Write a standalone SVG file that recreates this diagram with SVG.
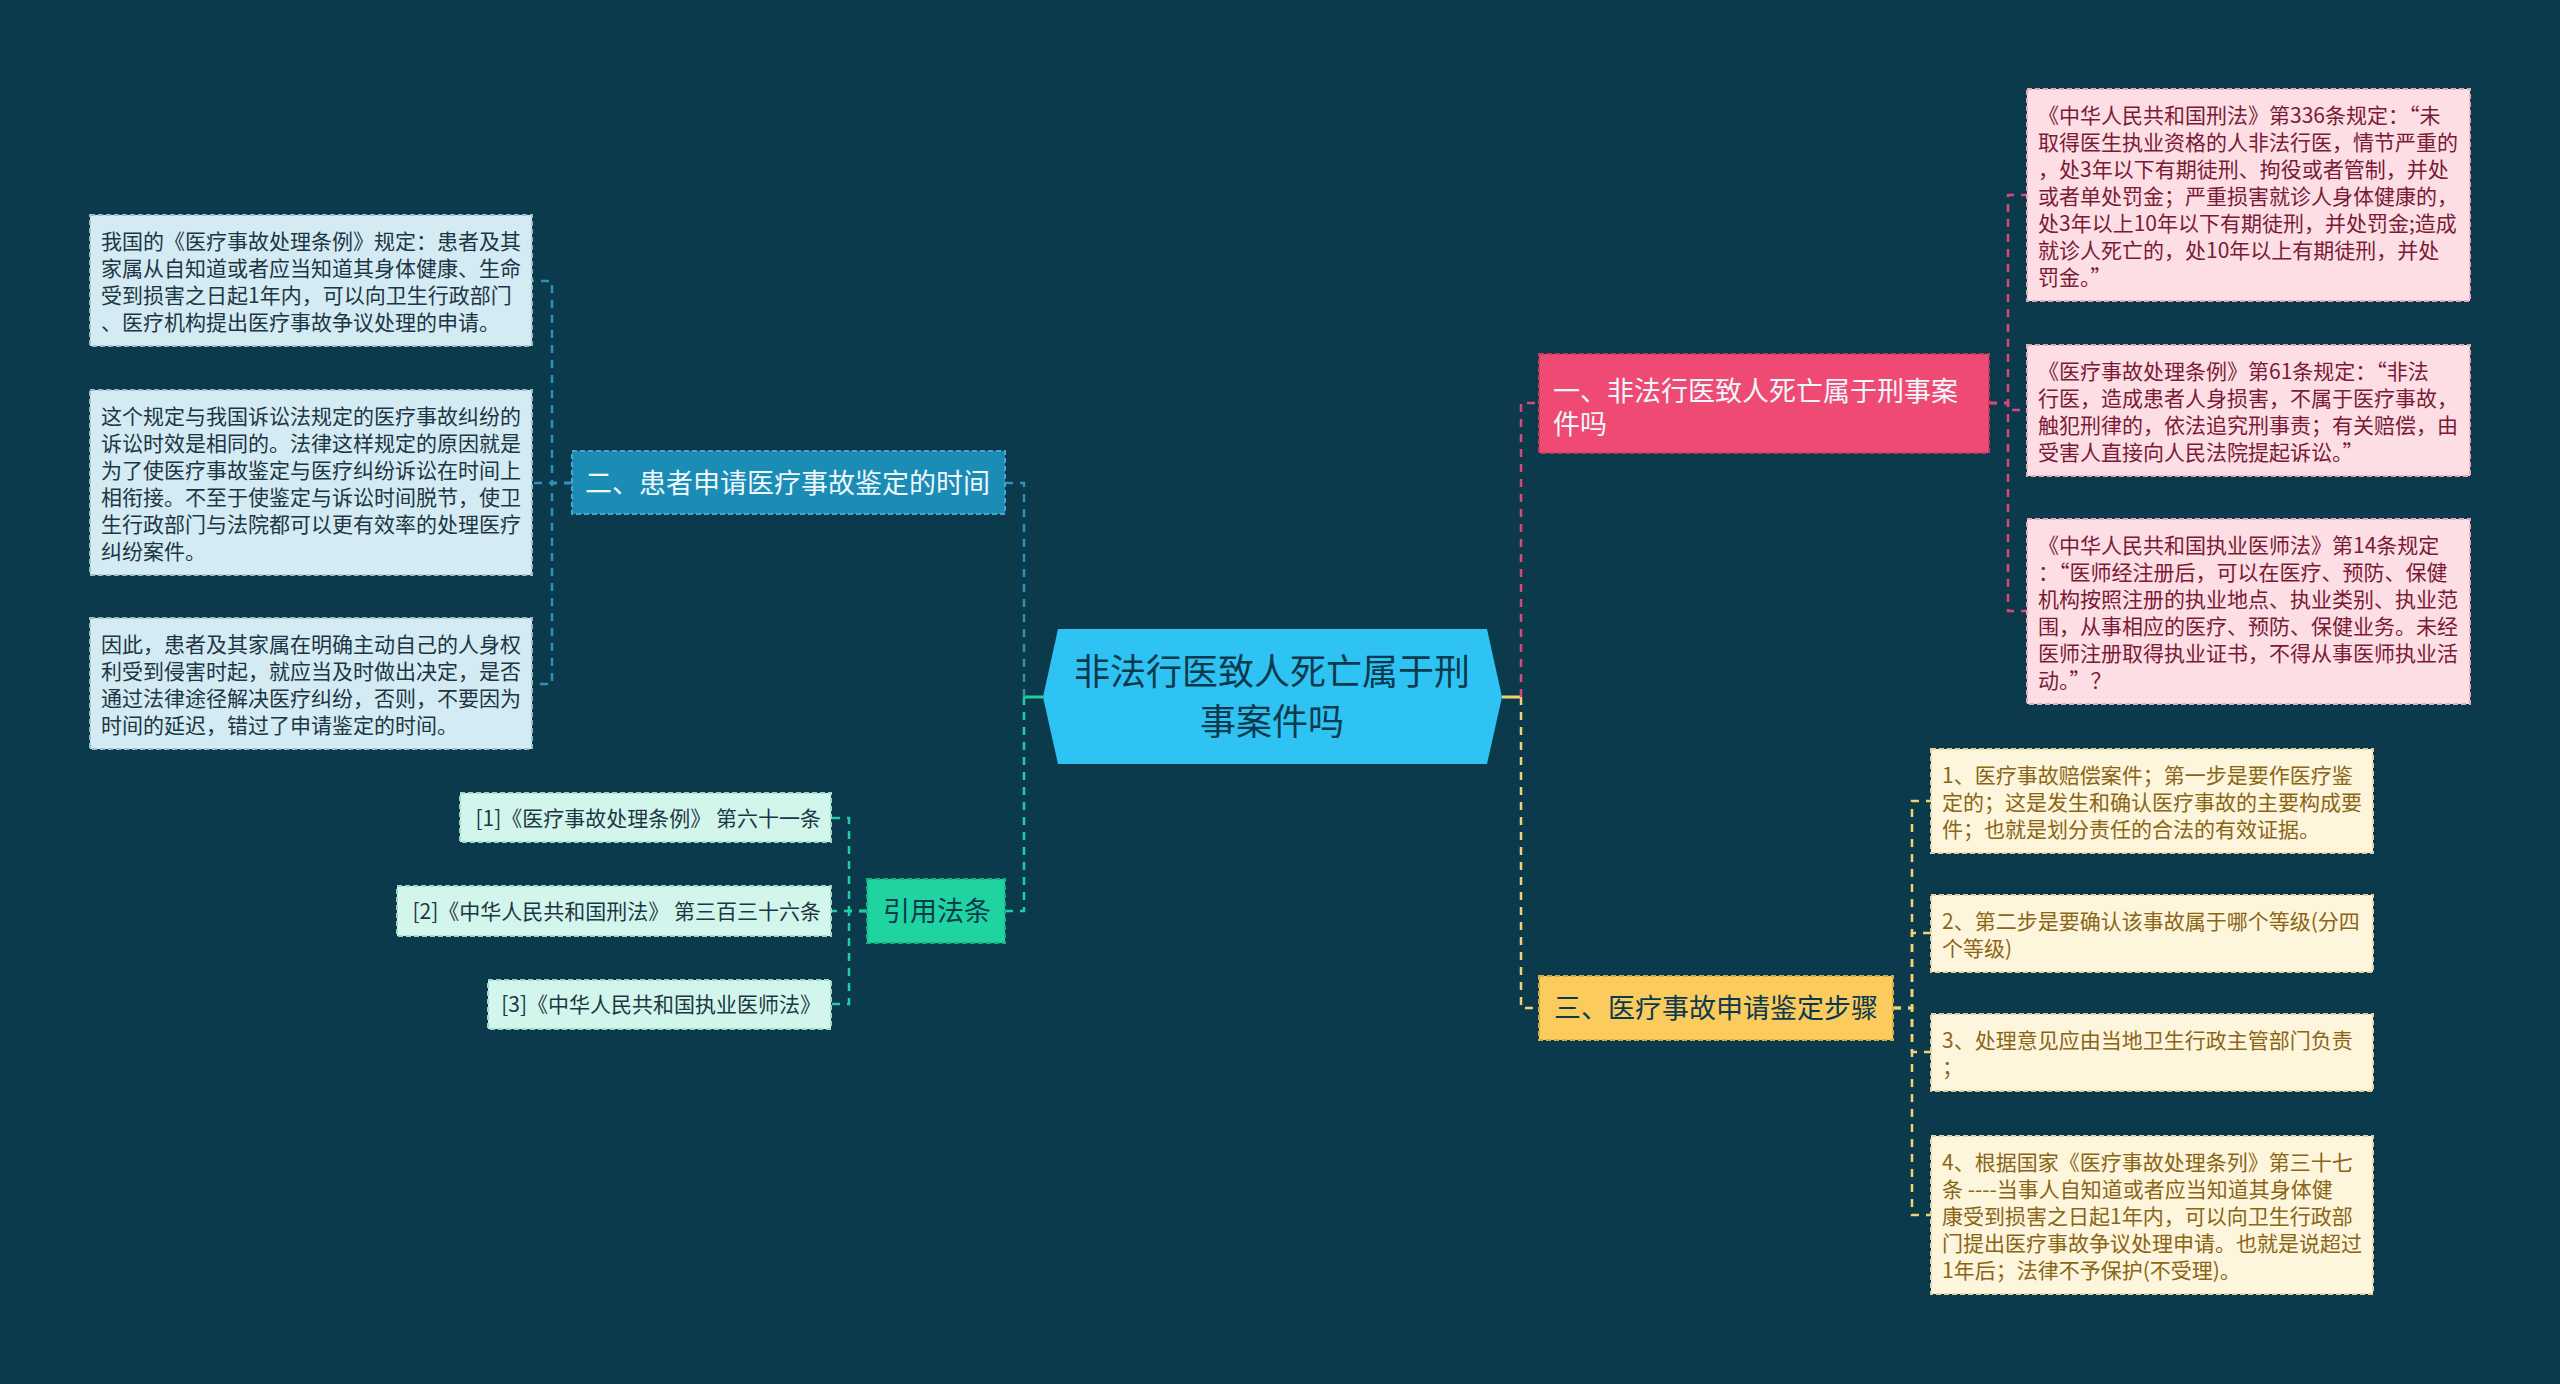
<svg xmlns="http://www.w3.org/2000/svg" width="2560" height="1384" viewBox="0 0 2560 1384">
<style>
text{font-family:"Noto Sans CJK SC","Noto Sans",sans-serif}
.bg{fill:#0c3a4d}
.conn{fill:none;stroke-width:2.5;stroke-dasharray:8 7}
.stub{fill:none;stroke-width:3}
.cb{stroke:#2f90b8}.cp{stroke:#d9487a}.cg{stroke:#20cf9f}.cy{stroke:#f3d270}
.box{stroke-width:2;stroke-dasharray:5 3}
.lb{fill:#d4ebf3;stroke:#9dbfcc}
.lp{fill:#fcdee4;stroke:#e6a9b8}
.ly{fill:#fdf5dc;stroke:#e2d3a6}
.lg{fill:#d3f6ec;stroke:#9ed8c6}
.bb{fill:#1b8cb6;stroke:#4aa6cc}
.bp{fill:#ef4a73;stroke:#c93a60}
.bgn{fill:#1fd4a1;stroke:#18b087}
.by{fill:#fbcb5d;stroke:#d9aa40}
.t21{font-size:21px}
.t27{font-size:27px}
.tb{fill:#1d3644}.tp{fill:#7b1a35}.ty{fill:#8a6516}.tw{fill:#eef7fb}.td{fill:#0c3a4d}
</style>
<rect class="bg" x="0" y="0" width="2560" height="1384"/>

<g id="connectors">
  <line class="stub cg" x1="1043" y1="697" x2="1024" y2="697"/>
  <line class="stub cy" x1="1502" y1="697" x2="1521" y2="697"/>
  <path class="conn cb" d="M1024 697 V483 H1005"/>
  <path class="conn cg" d="M1024 697 V911 H1005"/>
  <path class="conn cp" d="M1521 697 V403 H1539"/>
  <path class="conn cy" d="M1521 697 V1008 H1539"/>
  <path class="conn cb" d="M572 483 H552 V281 H532"/>
  <path class="conn cb" d="M572 483 H552 V483 H532"/>
  <path class="conn cb" d="M572 483 H552 V684 H532"/>
  <path class="conn cp" d="M1989 403 H2008 V195 H2027"/>
  <path class="conn cp" d="M1989 403 H2008 V410 H2027"/>
  <path class="conn cp" d="M1989 403 H2008 V611 H2027"/>
  <path class="conn cy" d="M1893 1008 H1912 V801 H1931"/>
  <path class="conn cy" d="M1893 1008 H1912 V933 H1931"/>
  <path class="conn cy" d="M1893 1008 H1912 V1052 H1931"/>
  <path class="conn cy" d="M1893 1008 H1912 V1215 H1931"/>
  <path class="conn cg" d="M867 911 H849 V818 H831"/>
  <path class="conn cg" d="M867 911 H849 V911 H831"/>
  <path class="conn cg" d="M867 911 H849 V1004 H831"/>
</g>

<g id="center">
  <polygon points="1043,697 1058,629 1487,629 1502,697 1487,764 1058,764" fill="#2ec3f2"/>
  <text class="td" font-size="36" text-anchor="middle"><tspan x="1272" y="685">非法行医致人死亡属于刑</tspan><tspan x="1272" y="735">事案件吗</tspan></text>
</g>

<g id="branch-pink">
  <rect class="box bp" x="1539" y="354" width="450" height="99"/>
  <text class="t27 tw"><tspan x="1553" y="401">一、非法行医致人死亡属于刑事案</tspan><tspan x="1553" y="434">件吗</tspan></text>
</g>
<g id="branch-blue">
  <rect class="box bb" x="572" y="451" width="433" height="63"/>
  <text class="t27 tw" x="585" y="493">二、患者申请医疗事故鉴定的时间</text>
</g>
<g id="branch-yellow">
  <rect class="box by" x="1539" y="976" width="354" height="64"/>
  <text class="t27 td" x="1554" y="1018">三、医疗事故申请鉴定步骤</text>
</g>
<g id="branch-green">
  <rect class="box bgn" x="867" y="879" width="138" height="64"/>
  <text class="t27 td" x="883" y="921">引用法条</text>
</g>

<g id="leaf-blue-1">
  <rect class="box lb" x="90" y="215" width="442" height="131"/>
  <text class="t21 tb"><tspan x="101" y="249">我国的《医疗事故处理条例》规定：患者及其</tspan><tspan x="101" y="276">家属从自知道或者应当知道其身体健康、生命</tspan><tspan x="101" y="303">受到损害之日起1年内，可以向卫生行政部门</tspan><tspan x="101" y="330">、医疗机构提出医疗事故争议处理的申请。</tspan></text>
</g>
<g id="leaf-blue-2">
  <rect class="box lb" x="90" y="390" width="442" height="185"/>
  <text class="t21 tb"><tspan x="101" y="424">这个规定与我国诉讼法规定的医疗事故纠纷的</tspan><tspan x="101" y="451">诉讼时效是相同的。法律这样规定的原因就是</tspan><tspan x="101" y="478">为了使医疗事故鉴定与医疗纠纷诉讼在时间上</tspan><tspan x="101" y="505">相衔接。不至于使鉴定与诉讼时间脱节，使卫</tspan><tspan x="101" y="532">生行政部门与法院都可以更有效率的处理医疗</tspan><tspan x="101" y="559">纠纷案件。</tspan></text>
</g>
<g id="leaf-blue-3">
  <rect class="box lb" x="90" y="618" width="442" height="131"/>
  <text class="t21 tb"><tspan x="101" y="652">因此，患者及其家属在明确主动自己的人身权</tspan><tspan x="101" y="679">利受到侵害时起，就应当及时做出决定，是否</tspan><tspan x="101" y="706">通过法律途径解决医疗纠纷，否则，不要因为</tspan><tspan x="101" y="733">时间的延迟，错过了申请鉴定的时间。</tspan></text>
</g>

<g id="leaf-pink-1">
  <rect class="box lp" x="2027" y="89" width="443" height="212"/>
  <text class="t21 tp"><tspan x="2038" y="123">《中华人民共和国刑法》第336条规定：“未</tspan><tspan x="2038" y="150">取得医生执业资格的人非法行医，情节严重的</tspan><tspan x="2038" y="177">，处3年以下有期徒刑、拘役或者管制，并处</tspan><tspan x="2038" y="204">或者单处罚金；严重损害就诊人身体健康的，</tspan><tspan x="2038" y="231">处3年以上10年以下有期徒刑，并处罚金;造成</tspan><tspan x="2038" y="258">就诊人死亡的，处10年以上有期徒刑，并处</tspan><tspan x="2038" y="285">罚金。”</tspan></text>
</g>
<g id="leaf-pink-2">
  <rect class="box lp" x="2027" y="345" width="443" height="131"/>
  <text class="t21 tp"><tspan x="2038" y="379">《医疗事故处理条例》第61条规定：“非法</tspan><tspan x="2038" y="406">行医，造成患者人身损害，不属于医疗事故，</tspan><tspan x="2038" y="433">触犯刑律的，依法追究刑事责；有关赔偿，由</tspan><tspan x="2038" y="460">受害人直接向人民法院提起诉讼。”</tspan></text>
</g>
<g id="leaf-pink-3">
  <rect class="box lp" x="2027" y="519" width="443" height="185"/>
  <text class="t21 tp"><tspan x="2038" y="553">《中华人民共和国执业医师法》第14条规定</tspan><tspan x="2038" y="580">：“医师经注册后，可以在医疗、预防、保健</tspan><tspan x="2038" y="607">机构按照注册的执业地点、执业类别、执业范</tspan><tspan x="2038" y="634">围，从事相应的医疗、预防、保健业务。未经</tspan><tspan x="2038" y="661">医师注册取得执业证书，不得从事医师执业活</tspan><tspan x="2038" y="688">动。”？</tspan></text>
</g>

<g id="leaf-yellow-1">
  <rect class="box ly" x="1931" y="749" width="442" height="104"/>
  <text class="t21 ty"><tspan x="1942" y="783">1、医疗事故赔偿案件；第一步是要作医疗鉴</tspan><tspan x="1942" y="810">定的；这是发生和确认医疗事故的主要构成要</tspan><tspan x="1942" y="837">件；也就是划分责任的合法的有效证据。</tspan></text>
</g>
<g id="leaf-yellow-2">
  <rect class="box ly" x="1931" y="895" width="442" height="77"/>
  <text class="t21 ty"><tspan x="1942" y="929">2、第二步是要确认该事故属于哪个等级(分四</tspan><tspan x="1942" y="956">个等级)</tspan></text>
</g>
<g id="leaf-yellow-3">
  <rect class="box ly" x="1931" y="1014" width="442" height="77"/>
  <text class="t21 ty"><tspan x="1942" y="1048">3、处理意见应由当地卫生行政主管部门负责</tspan><tspan x="1942" y="1075">；</tspan></text>
</g>
<g id="leaf-yellow-4">
  <rect class="box ly" x="1931" y="1136" width="442" height="158"/>
  <text class="t21 ty"><tspan x="1942" y="1170">4、根据国家《医疗事故处理条列》第三十七</tspan><tspan x="1942" y="1197">条 ----当事人自知道或者应当知道其身体健</tspan><tspan x="1942" y="1224">康受到损害之日起1年内，可以向卫生行政部</tspan><tspan x="1942" y="1251">门提出医疗事故争议处理申请。也就是说超过</tspan><tspan x="1942" y="1278">1年后；法律不予保护(不受理)。</tspan></text>
</g>

<g id="leaf-green-1">
  <rect class="box lg" x="460" y="793" width="371" height="49"/>
  <text class="t21 tb" x="821" y="826" text-anchor="end">[1]《医疗事故处理条例》 第六十一条</text>
</g>
<g id="leaf-green-2">
  <rect class="box lg" x="397" y="886" width="434" height="50"/>
  <text class="t21 tb" x="821" y="919" text-anchor="end">[2]《中华人民共和国刑法》 第三百三十六条</text>
</g>
<g id="leaf-green-3">
  <rect class="box lg" x="488" y="980" width="343" height="49"/>
  <text class="t21 tb" x="821" y="1012" text-anchor="end">[3]《中华人民共和国执业医师法》</text>
</g>
</svg>
